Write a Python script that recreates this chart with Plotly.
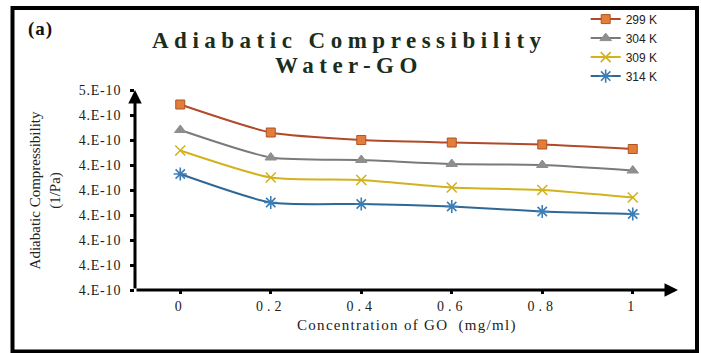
import plotly.graph_objects as go

# Concentration of GO (mg/ml)
conc = [0, 0.2, 0.4, 0.6, 0.8, 1.0]

# Adiabatic compressibility (1/Pa) at each temperature
k_299 = [4.471e-10, 4.415e-10, 4.400e-10, 4.395e-10, 4.391e-10, 4.382e-10]
k_304 = [4.420e-10, 4.365e-10, 4.360e-10, 4.352e-10, 4.350e-10, 4.339e-10]
k_309 = [4.379e-10, 4.325e-10, 4.320e-10, 4.305e-10, 4.300e-10, 4.285e-10]
k_314 = [4.332e-10, 4.275e-10, 4.272e-10, 4.267e-10, 4.257e-10, 4.252e-10]

series_names = ["299 K", "304 K", "309 K", "314 K"]

# Axis ticks (labels in Excel "0.E+00" style)
y_tickvals = [4.10e-10, 4.15e-10, 4.20e-10, 4.25e-10, 4.30e-10,
              4.35e-10, 4.40e-10, 4.45e-10, 4.50e-10]
y_ticktext = ["4.E-10", "4.E-10", "4.E-10", "4.E-10", "4.E-10",
              "4.E-10", "4.E-10", "4.E-10", "5.E-10"]
x_tickvals = [0, 0.2, 0.4, 0.6, 0.8, 1]
x_ticktext = ["0", "0.2", "0.4", "0.6", "0.8", "1"]

styles = [
    dict(line="#B04A28", fill="#E27D3C", edge="#B05520", symbol="square", size=9),
    dict(line="#7A7A7A", fill="#8E8E8E", edge="#8E8E8E", symbol="triangle-up", size=10),
    dict(line="#D2B21E", fill="#D2B21E", edge="#D2B21E", symbol="x-thin-open", size=10),
    dict(line="#2F6896", fill="#3C7DB4", edge="#3C7DB4", symbol="asterisk-open", size=11),
]


def spaced(text, px):
    return '<span style="letter-spacing:%spx">%s</span>' % (px, text)


fig = go.Figure()
for name, vals, st in zip(series_names, [k_299, k_304, k_309, k_314], styles):
    open_sym = st["symbol"].endswith("open")
    fig.add_trace(go.Scatter(
        x=conc, y=vals, name=name, mode="lines+markers",
        line=dict(color=st["line"], width=2, shape="spline", smoothing=0.6),
        marker=dict(symbol=st["symbol"], size=st["size"], color=st["fill"],
                    line=dict(color=st["edge"], width=1.6 if open_sym else 1)),
    ))

serif = "Liberation Serif"

fig.update_layout(
    width=701, height=353,
    margin=dict(l=135, r=23, t=90, b=63, autoexpand=False),
    paper_bgcolor="white", plot_bgcolor="white",
    showlegend=True,
    legend=dict(
        x=0.83, y=1.427, xanchor="left", yanchor="top",
        font=dict(family="Liberation Sans", size=12, color="#222"),
        bgcolor="rgba(0,0,0,0)", itemwidth=30, tracegroupgap=0,
    ),
    xaxis=dict(
        range=[-0.1, 1.1], tickvals=x_tickvals,
        ticktext=[spaced(t, 4) for t in x_ticktext],
        showgrid=False, zeroline=False, showline=False,
        ticks="outside", ticklen=3, tickwidth=3, tickcolor="black",
        tickfont=dict(family=serif, size=14, color="#222"),
    ),
    yaxis=dict(
        range=[4.1e-10, 4.5e-10], tickvals=y_tickvals,
        ticktext=[spaced(t, 0.8) for t in y_ticktext],
        showgrid=False, zeroline=False, showline=False,
        ticks="outside", ticklen=4, tickwidth=3, tickcolor="black",
        ticklabelstandoff=6,
        tickfont=dict(family=serif, size=14, color="#222"),
    ),
    font=dict(family=serif, color="#222"),
)

# Axis lines drawn as arrows
fig.add_annotation(x=1.1, y=4.1e-10, ax=-0.1, ay=4.1e-10, xref="x", yref="y",
                   axref="x", ayref="y", showarrow=True, arrowhead=2,
                   arrowsize=0.9, arrowwidth=3, arrowcolor="black", text="")
fig.add_annotation(x=-0.1, y=4.5e-10, ax=-0.1, ay=4.1e-10, xref="x", yref="y",
                   axref="x", ayref="y", showarrow=True, arrowhead=2,
                   arrowsize=0.9, arrowwidth=3, arrowcolor="black", text="")

# Chart title, two lines
title_font = dict(family=serif, size=23, color="#1A2E1C", weight="bold")
fig.add_annotation(
    x=0.395, y=1.25, xref="paper", yref="paper", xanchor="center", yanchor="middle",
    showarrow=False, text=spaced("Adiabatic Compressibility", 5.5), font=title_font,
)
fig.add_annotation(
    x=0.395, y=1.12, xref="paper", yref="paper", xanchor="center", yanchor="middle",
    showarrow=False, text=spaced("Water-GO", 5.5), font=title_font,
)
# Panel label
fig.add_annotation(
    x=-0.2, y=1.305, xref="paper", yref="paper", xanchor="left", yanchor="middle",
    showarrow=False, text=spaced("(a)", 1),
    font=dict(family=serif, size=19, color="#111", weight="bold"),
)
# Axis titles
fig.add_annotation(
    x=-0.165, y=0.5, xref="paper", yref="paper", xanchor="center", yanchor="middle",
    showarrow=False, textangle=-90, align="center",
    text="Adiabatic Compressibility<br>(1/Pa)",
    font=dict(family=serif, size=15, color="#222"),
)
fig.add_annotation(
    x=0.5, y=-0.175, xref="paper", yref="paper", xanchor="center", yanchor="middle",
    showarrow=False, text=spaced("Concentration of GO  (mg/ml)", 1.3),
    font=dict(family=serif, size=15, color="#222"),
)

# Outer frame
fig.add_shape(type="rect", xref="paper", yref="paper",
              x0=-0.2256, x1=1.035, y0=-0.3075, y1=1.41,
              line=dict(color="black", width=4), fillcolor="rgba(0,0,0,0)")

fig.write_html("out.html")
